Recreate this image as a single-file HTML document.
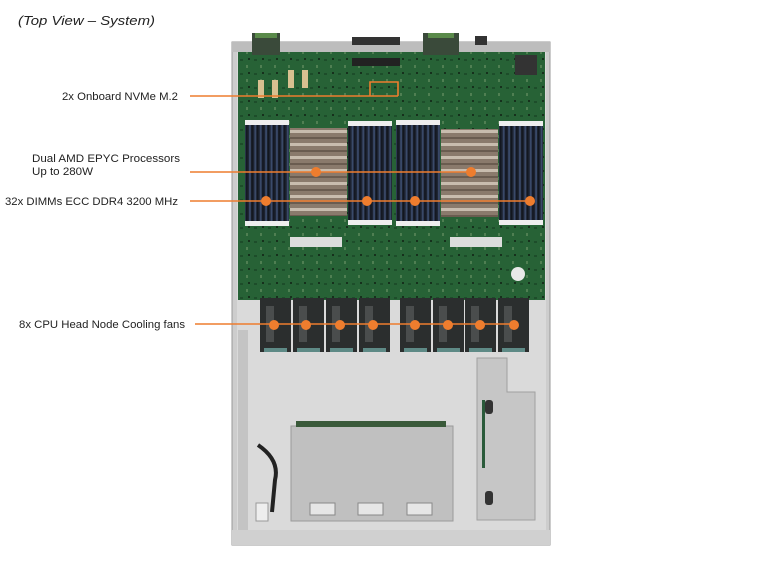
<!DOCTYPE html>
<html><head><style>
body{margin:0;background:#fff;width:764px;height:564px;overflow:hidden;font-family:"Liberation Sans",Arial,sans-serif}
svg{position:absolute;left:0;top:0}
</style></head><body>
<svg width="764" height="564" viewBox="0 0 764 564">
<defs>
<pattern id="dimm" width="5.4" height="10" patternUnits="userSpaceOnUse">
<rect width="5.4" height="10" fill="#1c2230"/><rect x="0.6" width="1.8" height="10" fill="#3a4a6a"/><rect x="3.2" width="1.2" height="10" fill="#11151d"/>
</pattern>
<pattern id="hs" width="10" height="13" patternUnits="userSpaceOnUse">
<rect width="10" height="13" fill="#8a7a6c"/><rect y="0" width="10" height="3" fill="#c8bcae"/><rect y="7" width="10" height="2" fill="#6a5c50"/>
</pattern>
<pattern id="pcb" width="14" height="14" patternUnits="userSpaceOnUse">
<rect width="14" height="14" fill="#276236"/><rect x="2" y="3" width="3" height="2" fill="#1d4d2a"/><rect x="8" y="9" width="2" height="3" fill="#4f7f52"/><rect x="10" y="2" width="2" height="2" fill="#16301c"/>
</pattern>
</defs>
<text x="18" y="25" font-size="13" font-style="italic" fill="#222" textLength="137" lengthAdjust="spacingAndGlyphs">(Top View – System)</text>
<!-- chassis -->
<rect x="232" y="42" width="318" height="503" fill="#cdcdcd" stroke="#999"/>
<rect x="237" y="50" width="309" height="490" fill="#dadada"/>
<rect x="238" y="52" width="307" height="248" fill="url(#pcb)"/>
<rect x="232" y="42" width="318" height="10" fill="#bdbdbd"/>
<rect x="252" y="33" width="28" height="22" fill="#3a4a3a"/><rect x="255" y="33" width="22" height="5" fill="#5a8a4a"/>
<rect x="423" y="33" width="36" height="22" fill="#3a4a3a"/><rect x="428" y="33" width="26" height="5" fill="#5a8a4a"/>
<rect x="352" y="37" width="48" height="8" fill="#333"/>
<rect x="475" y="36" width="12" height="9" fill="#333"/>
<rect x="515" y="55" width="22" height="20" fill="#333"/>
<rect x="258" y="80" width="6" height="18" fill="#d8c090"/><rect x="272" y="80" width="6" height="18" fill="#d8c090"/>
<rect x="288" y="70" width="6" height="18" fill="#d8c090"/><rect x="302" y="70" width="6" height="18" fill="#d8c090"/>
<rect x="352" y="58" width="48" height="8" fill="#222"/>
<rect x="245" y="120" width="44" height="106" fill="url(#dimm)"/>
<rect x="348" y="121" width="44" height="104" fill="url(#dimm)"/>
<rect x="396" y="120" width="44" height="106" fill="url(#dimm)"/>
<rect x="499" y="121" width="44" height="104" fill="url(#dimm)"/>
<g fill="#eee"><rect x="245" y="120" width="44" height="5"/><rect x="245" y="221" width="44" height="5"/>
<rect x="348" y="121" width="44" height="5"/><rect x="348" y="220" width="44" height="5"/>
<rect x="396" y="120" width="44" height="5"/><rect x="396" y="221" width="44" height="5"/>
<rect x="499" y="121" width="44" height="5"/><rect x="499" y="220" width="44" height="5"/></g>
<rect x="290" y="128" width="57" height="88" fill="url(#hs)"/>
<rect x="441" y="129" width="57" height="88" fill="url(#hs)"/>
<rect x="290" y="237" width="52" height="10" fill="#ddd"/><rect x="450" y="237" width="52" height="10" fill="#ddd"/>
<circle cx="518" cy="274" r="7" fill="#e8e8e8"/>
<g fill="#2b2e2e">
<rect x="260" y="298" width="31" height="54"/><rect x="293" y="298" width="31" height="54"/>
<rect x="326" y="298" width="31" height="54"/><rect x="359" y="298" width="31" height="54"/>
<rect x="400" y="298" width="31" height="54"/><rect x="433" y="298" width="31" height="54"/>
<rect x="465" y="298" width="31" height="54"/><rect x="498" y="298" width="31" height="54"/>
</g>
<g fill="#4a4d4d">
<rect x="266" y="306" width="8" height="36"/><rect x="299" y="306" width="8" height="36"/>
<rect x="332" y="306" width="8" height="36"/><rect x="365" y="306" width="8" height="36"/>
<rect x="406" y="306" width="8" height="36"/><rect x="439" y="306" width="8" height="36"/>
<rect x="471" y="306" width="8" height="36"/><rect x="504" y="306" width="8" height="36"/>
</g>
<g fill="#5e8a86">
<rect x="264" y="348" width="23" height="4"/><rect x="297" y="348" width="23" height="4"/>
<rect x="330" y="348" width="23" height="4"/><rect x="363" y="348" width="23" height="4"/>
<rect x="404" y="348" width="23" height="4"/><rect x="437" y="348" width="23" height="4"/>
<rect x="469" y="348" width="23" height="4"/><rect x="502" y="348" width="23" height="4"/>
</g>
<rect x="238" y="330" width="10" height="200" fill="#c4c4c4"/>
<rect x="291" y="426" width="162" height="95" fill="#c0c0c0" stroke="#9a9a9a"/>
<rect x="296" y="421" width="150" height="6" fill="#3a5a3a"/>
<g fill="#e6e6e6" stroke="#888"><rect x="310" y="503" width="25" height="12"/><rect x="358" y="503" width="25" height="12"/><rect x="407" y="503" width="25" height="12"/></g>
<path d="M477 358 L507 358 L507 392 L535 392 L535 520 L477 520 Z" fill="#c6c6c6" stroke="#a0a0a0"/>
<rect x="482" y="400" width="3" height="68" fill="#2a5a3a"/>
<rect x="485" y="400" width="8" height="14" rx="3" fill="#333"/><rect x="485" y="491" width="8" height="14" rx="3" fill="#333"/>
<path d="M258 445 Q280 460 275 480 L272 512" stroke="#222" stroke-width="4" fill="none"/>
<rect x="256" y="503" width="12" height="18" fill="#eee" stroke="#999"/>
<rect x="232" y="530" width="318" height="15" fill="#d0d0d0"/>
<g stroke="#ee7d2e" stroke-width="1.6" fill="none">
<line x1="190" y1="96" x2="398" y2="96"/><path d="M370 96 V82 H398 V96"/>
<line x1="190" y1="172" x2="472" y2="172"/>
<line x1="190" y1="201" x2="530" y2="201"/>
<line x1="195" y1="324" x2="515" y2="324"/>
</g>
<g fill="#ee7d2e">
<circle cx="316" cy="172" r="5"/><circle cx="471" cy="172" r="5"/>
<circle cx="266" cy="201" r="5"/><circle cx="367" cy="201" r="5"/><circle cx="415" cy="201" r="5"/><circle cx="530" cy="201" r="5"/>
<circle cx="274" cy="325" r="5"/><circle cx="306" cy="325" r="5"/><circle cx="340" cy="325" r="5"/><circle cx="373" cy="325" r="5"/>
<circle cx="415" cy="325" r="5"/><circle cx="448" cy="325" r="5"/><circle cx="480" cy="325" r="5"/><circle cx="514" cy="325" r="5"/>
</g>
<g font-size="11" fill="#222" lengthAdjust="spacingAndGlyphs">
<text x="62" y="100" textLength="116" lengthAdjust="spacingAndGlyphs">2x Onboard NVMe M.2</text>
<text x="32" y="162" textLength="148" lengthAdjust="spacingAndGlyphs">Dual AMD EPYC Processors</text>
<text x="32" y="175" textLength="61" lengthAdjust="spacingAndGlyphs">Up to 280W</text>
<text x="5" y="205" textLength="173" lengthAdjust="spacingAndGlyphs">32x DIMMs ECC DDR4 3200 MHz</text>
<text x="19" y="328" textLength="166" lengthAdjust="spacingAndGlyphs">8x CPU Head Node Cooling fans</text>
</g>
</svg>
</body></html>
